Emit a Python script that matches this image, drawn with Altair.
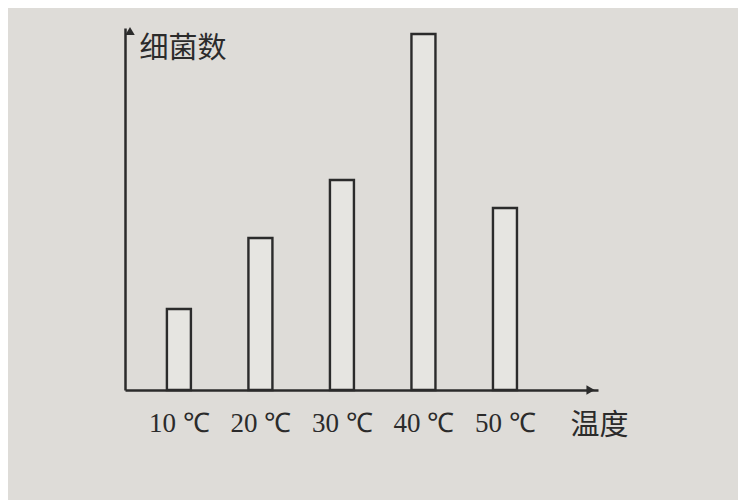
import altair as alt
import pandas as pd

temps = ["10 ℃", "20 ℃", "30 ℃", "40 ℃", "50 ℃"]
positions = [1, 2, 3, 4, 5]
counts = [81, 152, 210, 356, 182]

df = pd.DataFrame({"pos": positions, "temp": temps, "count": counts})

W, H = 473, 362
XDOM = [0.4, 6.08]
YDOM = [0, 362]
INK = "#2b2b2b"
BG = "#dedcd8"

label_js = "[" + ",".join("'" + t + "'" for t in temps) + "]"

xs = alt.Scale(domain=XDOM, nice=False, zero=False)
ys = alt.Scale(domain=YDOM, nice=False)

bars = alt.Chart(df).mark_bar(size=24, fill="#e6e5e1", stroke=INK, strokeWidth=2.4).encode(
    x=alt.X("pos:Q", scale=xs,
            axis=alt.Axis(values=positions, labelExpr=label_js + "[datum.value-1]",
                          ticks=False, grid=False, domain=True, domainColor=INK, domainWidth=2.5,
                          labelFont="Liberation Serif", labelFontSize=27, labelColor=INK,
                          labelPadding=20, title="温度", titleFont="Noto Sans CJK SC",
                          titleFontSize=29, titleFontWeight="normal", titleColor=INK,
                          titleX=445, titleY=35, titleAlign="left", titleBaseline="middle")),
    y=alt.Y("count:Q", scale=ys,
            axis=alt.Axis(labels=False, ticks=False, grid=False, domainColor=INK, domainWidth=2.5,
                          title="细菌数", titleAngle=0, titleFont="Noto Sans CJK SC",
                          titleFontSize=29, titleFontWeight="normal", titleColor=INK,
                          titleX=14, titleY=20, titleAlign="left", titleBaseline="middle")),
)

arrow_up = alt.Chart(pd.DataFrame({"a": [0]})).mark_point(
    shape="triangle-up", filled=True, color=INK, size=90, opacity=1).encode(
    x=alt.datum(XDOM[0], scale=xs), y=alt.datum(YDOM[1] - 3, scale=ys))
arrow_right = alt.Chart(pd.DataFrame({"a": [0]})).mark_point(
    shape="triangle-right", filled=True, color=INK, size=90, opacity=1).encode(
    x=alt.datum(XDOM[1] - 0.03, scale=xs), y=alt.datum(YDOM[0], scale=ys))

chart = alt.layer(bars, arrow_up, arrow_right).properties(
    width=W, height=H, background=BG,
    autosize=alt.AutoSizeParams(type="none"),
    padding={"left": 117, "top": 20, "right": 140, "bottom": 110},
).configure_view(stroke=None)

chart.save("out.html", embed_options={"renderer": "svg", "actions": False})
